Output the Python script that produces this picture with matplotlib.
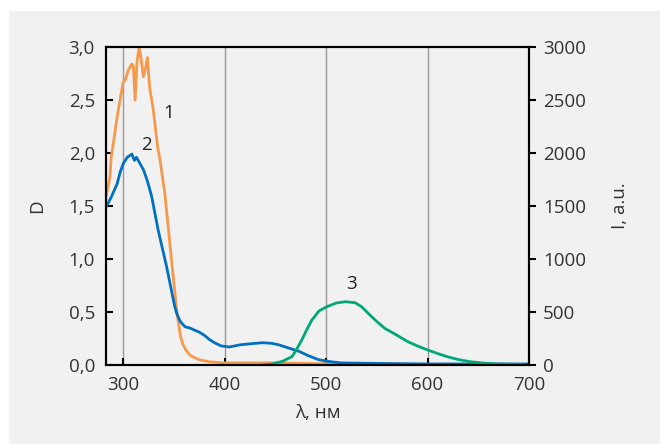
import matplotlib
matplotlib.use('Agg')
import matplotlib.pyplot as plt
from matplotlib.patches import Rectangle

plt.rcParams['font.family'] = ['Open Sans', 'DejaVu Sans']
plt.rcParams['font.size'] = 13.5

# curve 1 - absorbance (orange)
wl_1 = [283, 287, 288, 294, 299, 300, 302, 305, 308.5, 310, 311.7, 313.5, 315.6, 317.5,
        319.8, 322, 323.8, 326, 329.6, 334, 336, 341, 347.6, 353, 356.4, 359, 362, 365, 368,
        375, 385, 398, 420, 450, 480, 520]
d_1 = [1.58, 1.78, 1.95, 2.34, 2.62, 2.67, 2.69, 2.78, 2.84, 2.82, 2.50, 2.85, 3.00, 2.90,
       2.72, 2.80, 2.90, 2.62, 2.41, 2.05, 1.95, 1.62, 0.99, 0.49, 0.27, 0.19, 0.14, 0.10, 0.08,
       0.05, 0.03, 0.02, 0.02, 0.02, 0.015, 0.01]

# curve 2 - absorbance (blue)
wl_2 = [283, 288, 294, 297, 300, 304, 308.5, 311, 313, 316, 320, 324, 328, 334.5, 342.7,
        348, 350.8, 353, 355.7, 358, 361, 365.5, 370, 375, 380, 385, 390, 396.5, 404.6,
        415, 425, 437, 446, 453.5, 463, 473, 482, 492.6, 505, 515, 550, 600, 650, 700]
d_2 = [1.49, 1.58, 1.71, 1.82, 1.90, 1.96, 1.99, 1.93, 1.96, 1.91, 1.84, 1.73, 1.59, 1.27, 0.93,
       0.68, 0.55, 0.48, 0.42, 0.39, 0.36, 0.35, 0.33, 0.31, 0.28, 0.24, 0.21, 0.18, 0.17,
       0.19, 0.20, 0.21, 0.205, 0.19, 0.16, 0.13, 0.09, 0.05, 0.03, 0.02, 0.015, 0.01, 0.01, 0.01]

# curve 3 - fluorescence (green), right axis
wl_3 = [437, 447, 457, 466.5, 471, 476, 481, 486, 493, 500.7, 510, 518.7, 528.5, 535, 541.5,
        550, 557.8, 570, 580.5, 590, 600, 610, 619.6, 630, 642, 655, 668, 681, 694]
i_3 = [0, 10, 35, 80, 150, 236, 335, 425, 510, 550, 585, 597, 588, 550, 487,
       410, 346, 280, 220, 180, 142, 108, 78, 52, 31, 18, 10, 7, 5]

fig = plt.figure(figsize=(6.6, 4.44), dpi=100, facecolor='white')
fig.patches.append(Rectangle((9 / 660, 0), 1, 1 - 11 / 444, transform=fig.transFigure,
                             facecolor='#f1f1f1', edgecolor='none', zorder=-10))

ax = fig.add_axes([106 / 660, 1 - 365 / 444, (529 - 106) / 660, (365 - 47) / 444])
ax.set_facecolor('#f1f1f1')
ax2 = ax.twinx()

for x in [300, 400, 500, 600]:
    ax.axvline(x, color='#999999', lw=1, zorder=0)

ax.plot(wl_1, d_1, color='#f7994a', lw=2)
ax.plot(wl_2, d_2, color='#0070c0', lw=2)
ax2.plot(wl_3, i_3, color='#00a878', lw=2)

ax.set_xlim(283, 700)
ax.set_ylim(0, 3)
ax2.set_ylim(0, 3000)
ax.set_xticks([300, 400, 500, 600, 700])
ax.set_yticks([0, 0.5, 1, 1.5, 2, 2.5, 3])
ax.set_yticklabels(['0,0', '0,5', '1,0', '1,5', '2,0', '2,5', '3,0'])
ax2.set_yticks([0, 500, 1000, 1500, 2000, 2500, 3000])

txt = '#333333'
ax.tick_params(axis='both', direction='in', length=5, width=1.5, colors='black',
               labelcolor=txt, labelsize=13.5, pad=8)
ax.tick_params(axis='y', right=False)
ax2.tick_params(axis='y', direction='out', length=5, width=1.5, colors='black',
                labelcolor=txt, labelsize=13.5, pad=5)

for a in (ax, ax2):
    for s in a.spines.values():
        s.set_linewidth(1.5)
        s.set_color('black')

ax.set_xlabel('λ, нм', color=txt, fontsize=13.5, labelpad=7)
ax.set_ylabel('D', color=txt, fontsize=13.5, labelpad=16)
ax2.set_ylabel('I, a.u.', color=txt, fontsize=13.5, labelpad=18)

ax.text(345, 2.38, '1', color='#222222', fontsize=13.5, ha='center', va='center')
ax.text(322.5, 2.08, '2', color='#222222', fontsize=13.5, ha='center', va='center')
ax.text(525, 0.76, '3', color='#222222', fontsize=13.5, ha='center', va='center')

fig.savefig('out.png', dpi=100, facecolor=fig.get_facecolor())
